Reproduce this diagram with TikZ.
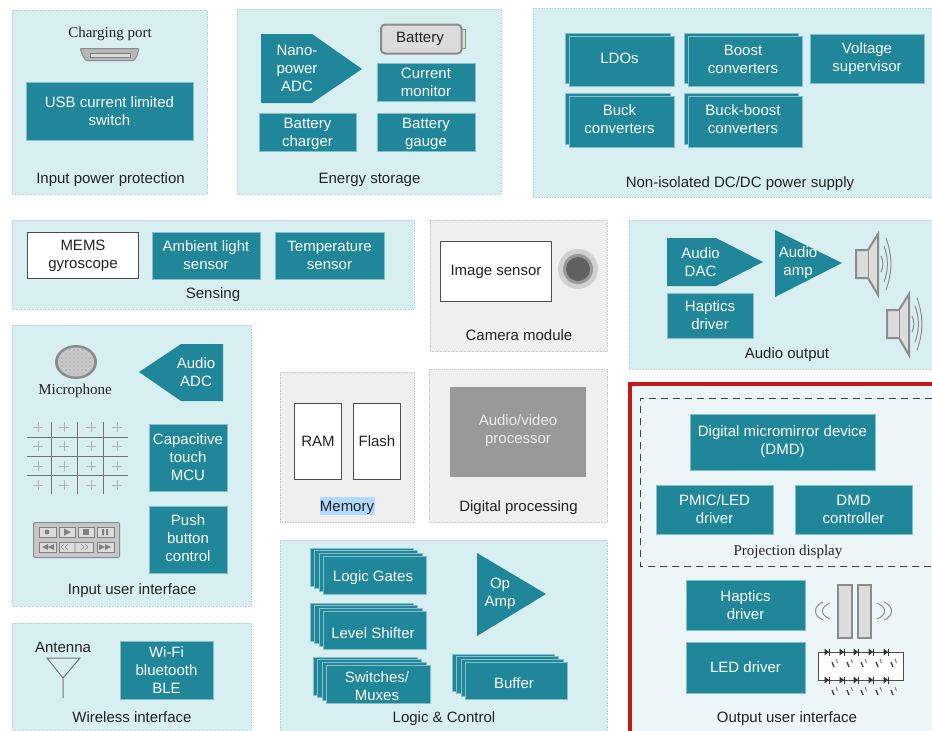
\documentclass[tikz,border=0pt]{standalone}
\usepackage{fontspec}
\setmainfont{Liberation Sans}
\newfontfamily\serifx{Liberation Serif}
\usetikzlibrary{calc}
\definecolor{teal1}{HTML}{1F8799}
\definecolor{panelc}{HTML}{D8EFF2}
\definecolor{panelg}{HTML}{EFEFEF}
\definecolor{panelo}{HTML}{ECF6F8}
\definecolor{iconc}{HTML}{8C8C8C}
\definecolor{iconf}{HTML}{DCDCDC}
\definecolor{redb}{HTML}{CC161C}
\definecolor{ink}{HTML}{222222}
\tikzset{
 panel/.style={fill=panelc,draw=teal1!35,densely dotted,line width=.6pt},
 panelgray/.style={fill=panelg,draw=black!22,densely dotted,line width=.6pt},
 tealbox/.style={fill=teal1,draw=teal1!45!panelc,line width=.4pt,inner sep=0pt},
 tealshape/.style={fill=teal1},
 shapetext/.style={text=white,align=center,inner sep=0pt,font=\fontsize{15}{18}\selectfont},
 whitebox/.style={fill=white,draw=black!70,line width=.8pt,text=ink,align=center,inner sep=0pt,font=\fontsize{15}{18}\selectfont},
 caption/.style={text=ink,align=center,anchor=base,inner sep=0pt,font=\fontsize{15}{18}\selectfont},
 inktext/.style={text=ink,inner sep=0pt,font=\fontsize{15}{18}\selectfont},
 seriftext/.style={text=ink,align=center,inner sep=0pt,font=\serifx\fontsize{15}{16}\selectfont},
 icon/.style={draw=iconc,fill=iconf,line width=2pt},
 wave/.style={draw=iconc,line width=1pt},
 gridline/.style={draw=black!55,line width=1pt},
 plus/.style={draw=black!30,line width=1pt},
}
% \bxx[text options]{name}{x1}{y1}{x2}{y2}{text}: teal box with its own text node
\newcommand{\bxx}[7][]{\pgfmathsetmacro\bw{#5-#3}\pgfmathsetmacro\bh{#6-#4}\pgfmathsetmacro\cxx{(#3+#5)/2}\pgfmathsetmacro\cyy{(#4+#6)/2}%
 \node[tealbox,minimum width=\bw pt-.4pt,minimum height=\bh pt-.4pt] (#2) at (\cxx,\cyy) {};
 \node[shapetext,#1] (#2t) at (\cxx,\cyy) {#7};}
% \wbx{name}{x1}{y1}{x2}{y2}{text}: white box
\newcommand{\wbx}[6]{\pgfmathsetmacro\bw{#4-#2}\pgfmathsetmacro\bh{#5-#3}\pgfmathsetmacro\cxx{(#2+#4)/2}\pgfmathsetmacro\cyy{(#3+#5)/2}%
 \node[whitebox,minimum width=\bw pt-.5pt,minimum height=\bh pt-.5pt] (#1) at (\cxx,\cyy) {#6};}
\newcommand{\pn}[5]{\fill[#5] (#1,#2) rectangle (#3,#4); \draw[#5,fill=none] (#1,#2) rectangle (#3,#4);}
% \stack[text opts]{name}{x1}{y1}{x2}{y2}{n layers}{text}: coordinates of front layer
\newcommand{\stack}[8][]{\foreach \k in {#7,...,1}{\pgfmathsetmacro\ox{-4.3*\k}\pgfmathsetmacro\oy{-2.7*\k}
 \draw[fill=teal1,draw=teal1!45!panelc,line width=.4pt] ({#3+\ox},{#4+\oy}) rectangle ({#5+\ox},{#6+\oy});}
 \bxx[#1]{#2}{#3}{#4}{#5}{#6}{#8}}
\newcommand{\spk}[2]{\begin{scope}[shift={(#1,#2)}]
 \draw[icon] (0,-14) -- (12,-14) -- (22,-30) -- (22,31) -- (12,14) -- (0,14) -- cycle;
 \draw[iconc,line width=1pt] (12,-14) -- (12,14);
 \draw[wave] (25,-8) .. controls (27.5,-3) and (27.5,3) .. (25,8);
 \draw[wave] (28,-18) .. controls (32.5,-6) and (32.5,6) .. (28,18);
 \draw[wave] (30,-26) .. controls (36.5,-8) and (36.5,8) .. (30,26);
 \end{scope}}
\begin{document}
\begin{tikzpicture}[x=1pt,y=-1pt]
\useasboundingbox (0,0) rectangle (932,731);
\fill[white] (0,0) rectangle (932,731);
% panels
\pn{12}{10}{207}{194}{panel}
\pn{237}{9}{501}{194}{panel}
\pn{533}{8}{933}{197}{panel}
\pn{12}{220}{414}{309}{panel}
\pn{430}{220}{607}{351}{panelgray}
\pn{629}{220}{933}{369}{panel}
\pn{12}{325}{251}{606}{panel}
\pn{280}{372}{414}{522}{panelgray}
\pn{429}{369}{607}{522}{panelgray}
\pn{12}{623}{251}{730}{panel}
\pn{280}{540}{607}{732}{panel}
\fill[panelo] (629,382) rectangle (934,733);
\draw[redb,line width=4pt] (630,733) -- (630,384) -- (934,384);
\draw[black!75,dash pattern=on 7pt off 5pt,line width=1pt] (932,398) -- (640,398) -- (640,566) -- (932,566);
% input power
\node[seriftext] (port) at (110,34) {Charging port};
\draw[draw=iconc,fill=black!28,line width=1pt,rounded corners=1pt] (80,48.5) -- (139,48.5) -- (137,56) -- (134,60.5) -- (86,60.5) -- (83,56) -- cycle;
\draw[black!50,line width=.8pt,fill=iconf] (90,53.5) rectangle (130,57.5);
\bxx{usb}{26}{82}{193}{140}{USB current limited\\switch}
\node[caption] (cap1) at (110.5,183) {Input power protection};
% energy
\fill[tealshape] (261,34) -- (312,34) -- (362,69) -- (312,103) -- (261,103) -- cycle;
\node[shapetext] (nano) at (297,68.5) {Nano-\\power\\ADC};
\draw[icon,fill=iconc!30!white,line width=1pt] (461,29) rectangle (465.5,48);
\draw[icon,rounded corners=4pt] (381,24.5) rectangle (461.5,53.5);
\node[inktext] (batt) at (420,38.5) {Battery};
\bxx{cm}{377}{63}{475}{101}{Current\\monitor}
\bxx[yshift=-1.5pt]{bc}{259}{113}{356}{151}{Battery\\charger}
\bxx[yshift=-1.5pt]{bg}{377}{113}{475}{151}{Battery\\gauge}
\node[caption] (cap2) at (369.5,183) {Energy storage};
% DC/DC
\stack[xshift=-2pt,yshift=2pt]{ldo}{569}{35.5}{674}{86}{1}{LDOs}
\stack[xshift=-2pt,yshift=2pt]{buck}{569}{96}{674}{147}{1}{Buck\\converters}
\stack[xshift=-2pt,yshift=1.5pt]{boost}{688}{35.5}{802}{86}{1}{Boost\\converters}
\stack[xshift=-2pt,yshift=2pt]{bb}{688}{96}{802}{147}{1}{Buck-boost\\converters}
\bxx{vs}{810}{34}{924}{83}{Voltage\\supervisor}
\node[caption] (cap3) at (740,187) {Non-isolated DC/DC power supply};
% sensing
\wbx{mems}{27}{232}{139}{279}{MEMS\\gyroscope}
\bxx{als}{152}{232}{260}{279}{Ambient light\\sensor}
\bxx{temp}{275}{232}{384}{279}{Temperature\\sensor}
\node[caption] (cap4) at (213,298) {Sensing};
% camera
\wbx{imgs}{440}{241}{552}{302}{Image sensor}
\fill[black!18] (578,269) circle (20);
\fill[black!40] (578,269) circle (15);
\fill[black!62] (578,269) circle (12);
\node[caption] (cap5) at (519,340) {Camera module};
% audio output
\fill[tealshape] (667,238) -- (716,238) -- (763,262) -- (716,286) -- (667,286) -- cycle;
\node[shapetext] (dac) at (700.5,262) {Audio\\DAC};
\fill[tealshape] (775,230) -- (842,263) -- (775,297) -- cycle;
\node[shapetext] (amp) at (798,263) {Audio\\amp};
\bxx{hap1}{667}{293}{753}{338}{Haptics\\driver}
\spk{856}{264}
\spk{887}{324}
\node[caption] (cap6) at (787,358) {Audio output};
% input UI
\fill[iconc] (76,362) ellipse (21 and 17);
\fill[black!22] (76,362) ellipse (18 and 14.5);
\foreach \mx in {-14,-10,...,14}{\foreach \my in {-12,-8,...,12}{
 \pgfmathparse{(\mx*\mx/289+\my*\my/196)<1?1:0}\ifnum\pgfmathresult=1
 \fill[black!50] (76+\mx,362+\my) circle (.7);\fi}}
\node[seriftext] (mic) at (75,391) {Microphone};
\fill[tealshape] (139,372) -- (181,344) -- (223,344) -- (223,401) -- (181,401) -- cycle;
\node[shapetext] (aadc) at (196,372) {Audio\\ADC};
\bxx{capt}{149}{424}{227}{491}{Capacitive\\touch\\MCU}
\bxx[yshift=1pt]{push}{149}{506}{227}{573}{Push\\button\\control}
\foreach \gy in {437,456,475}{\draw[gridline] (27,\gy) -- (128,\gy);}
\foreach \gx in {51,77,103}{\draw[gridline] (\gx,422) -- (\gx,494);}
\foreach \gx in {38,64,91,117}{\foreach \gy in {427,446,466,485}{
 \draw[plus] (\gx-5,\gy) -- (\gx+5,\gy) (\gx,\gy-5) -- (\gx,\gy+5);}}
\draw[draw=iconc,fill=black!22,line width=1pt,rounded corners=1pt] (33.5,522.5) rectangle (119.5,557.5);
\foreach \bxa/\bxb in {39/56,59/75,78/94,97/114}{\draw[draw=black!50,fill=iconf,line width=.7pt] (\bxa,527) rectangle (\bxb,537);}
\foreach \bxa/\bxb in {39/56,59/93,97/114}{\draw[draw=black!50,fill=iconf,line width=.7pt] (\bxa,542) rectangle (\bxb,552);}
\fill[black!50] (47,532) circle (2.5);
\fill[black!50] (64,528.5) -- (71,532) -- (64,535.5) -- cycle;
\fill[black!50] (83,529) rectangle (89,535);
\fill[black!50] (102,529) rectangle (104,535) (106,529) rectangle (108,535);
\fill[black!50] (42,547) -- (48,544) -- (48,550) -- cycle (48,547) -- (54,544) -- (54,550) -- cycle;
\fill[black!50] (111,547) -- (105,544) -- (105,550) -- cycle (105,547) -- (99,544) -- (99,550) -- cycle;
\draw[black!45,line width=.6pt] (64,544) -- (61,547) -- (64,550) (68,544) -- (65,547) -- (68,550) (85,544) -- (88,547) -- (85,550) (81,544) -- (84,547) -- (81,550) (75,542) -- (75,552);
\node[caption] (cap7) at (132,594.5) {Input user interface};
% wireless
\node[inktext] (ant) at (63,647) {Antenna};
\draw[black!55,line width=1pt] (47,658) -- (80,658) -- (63,678) -- cycle (63,678) -- (63,698);
\bxx{wifi}{120}{641}{213}{699}{Wi-Fi\\bluetooth\\BLE}
\node[caption] (cap8) at (132,722) {Wireless interface};
% memory
\wbx{ram}{294}{403}{342}{480}{RAM}
\wbx{flash}{353}{403}{401}{480}{Flash}
\fill[blue!50!cyan!30] (320,497) rectangle (375,515);
\node[caption] (cap9) at (347,511) {Memory};
% digital
\fill[black!40] (450,387) rectangle (586,477);
\node[shapetext,text=white!92!black] (avp) at (518,431) {Audio/video\\processor};
\node[caption] (cap10) at (518.5,511) {Digital processing};
% logic
\stack[xshift=-1.5pt,yshift=-3pt]{lg}{323}{556}{426}{594}{3}{Logic Gates}
\stack[xshift=-1.5pt,yshift=-3pt]{ls}{323}{611}{426}{649}{3}{Level Shifter}
\stack[xshift=-1pt,yshift=-2pt]{sm}{326}{665}{430}{703}{3}{Switches/\\Muxes}
\stack[xshift=-2pt,yshift=-2.5pt]{buf}{465}{662}{567}{699}{3}{Buffer}
\fill[tealshape] (477,553) -- (546,594) -- (477,636) -- cycle;
\node[shapetext] (op) at (500,594) {Op\\Amp};
\node[caption] (cap11) at (444,722.5) {Logic \& Control};
% output
\bxx{dmd}{690}{414}{875}{470}{Digital micromirror device\\(DMD)}
\bxx{pmic}{656}{485}{773}{534}{PMIC/LED\\driver}
\bxx{dmdc}{795}{485}{912}{534}{DMD\\controller}
\node[seriftext,anchor=base] (proj) at (788,555) {Projection display};
\bxx{hap2}{686}{580}{805}{630}{Haptics\\driver}
\bxx{led}{686}{642}{805}{693}{LED driver}
\draw[icon] (838,585) rectangle (851.5,638);
\draw[icon] (857.5,585) rectangle (871,638);
\draw[wave] (823,602) .. controls (813,606) and (813,616) .. (823,620);
\draw[wave] (830,603) .. controls (820,607) and (820,615) .. (830,619);
\draw[wave] (877,603) .. controls (887,607) and (887,615) .. (877,619);
\draw[wave] (884,602) .. controls (894,606) and (894,616) .. (884,620);
\draw[black!70,fill=white,line width=1pt] (903,652) -- (903,680) -- (818,680) -- (818,652) -- (903,652);
\foreach \ly in {652,680}{\foreach \lx in {827,842,856,871,886}{
 \fill[black!80] (\lx-2.5,\ly-3.5) -- (\lx+2,\ly) -- (\lx-2.5,\ly+3.5) -- cycle;
 \draw[black!80,line width=.9pt] (\lx+2.5,\ly-3.5) -- (\lx+2.5,\ly+3.5);
 \draw[black!75,line width=1.3pt] (\lx+5,\ly+10) -- (\lx+7,\ly+15);
 \draw[black!50,line width=1pt] (\lx+9,\ly+7) -- (\lx+10.5,\ly+11);
 }}
\node[caption] (cap12) at (787,722.5) {Output user interface};
\end{tikzpicture}
\end{document}
